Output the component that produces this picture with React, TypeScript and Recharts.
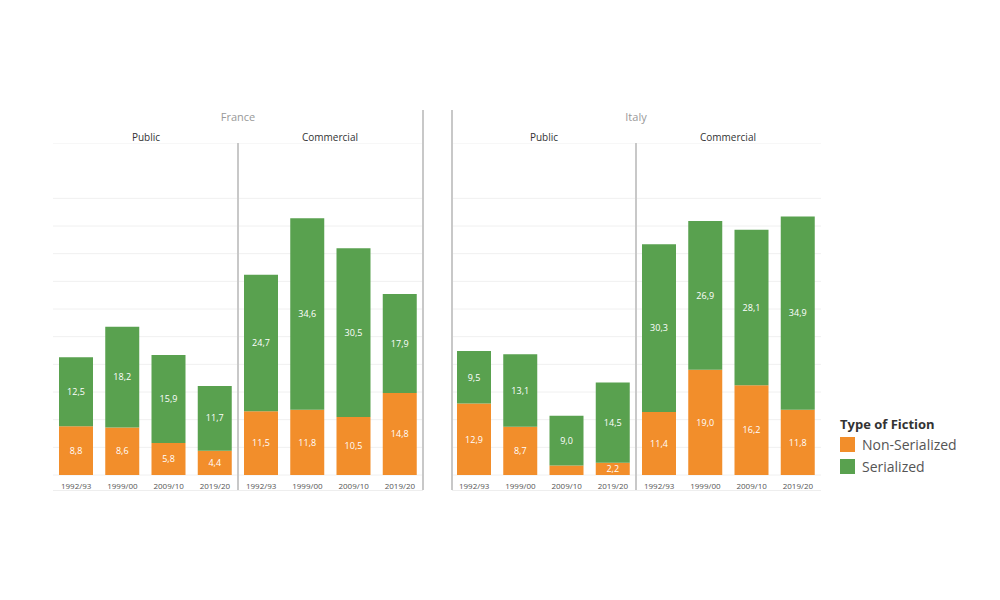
import { Bar, BarChart, CartesianGrid, LabelList, XAxis, YAxis } from 'recharts';

const seasons = ['1992/93', '1999/00', '2009/10', '2019/20'];

const francePublicNonSerialized = [8.8, 8.6, 5.8, 4.4];
const francePublicSerialized = [12.5, 18.2, 15.9, 11.7];
const franceCommercialNonSerialized = [11.5, 11.8, 10.5, 14.8];
const franceCommercialSerialized = [24.7, 34.6, 30.5, 17.9];
const italyPublicNonSerialized = [12.9, 8.7, 1.7, 2.2];
const italyPublicSerialized = [9.5, 13.1, 9.0, 14.5];
const italyCommercialNonSerialized = [11.4, 19.0, 16.2, 11.8];
const italyCommercialSerialized = [30.3, 26.9, 28.1, 34.9];

const yTicks = [0, 5, 10, 15, 20, 25, 30, 35, 40, 45, 50, 55, 60];

const ORANGE = '#F28E2B';
const GREEN = '#59A14F';
const FONT = '"Open Sans", "Noto Sans", sans-serif';

const buildRows = (nonSerialized: number[], serialized: number[]) =>
  seasons.map((season, i) => ({ season, nonSerialized: nonSerialized[i], serialized: serialized[i] }));

// small segments (< 2) get no label, like in the original
const formatValue = (value: any) =>
  typeof value === 'number' && value >= 2 ? value.toFixed(1).replace('.', ',') : '';

const PANEL_TOP = 143;
const PLOT_HEIGHT = 332;
const AXIS_HEIGHT = 20;
const PANEL_WIDTH = 185;

function Panel({ left, rows }: { left: number; rows: ReturnType<typeof buildRows> }) {
  return (
    <div style={{ position: 'absolute', left, top: PANEL_TOP }}>
      <BarChart
        width={PANEL_WIDTH}
        height={PLOT_HEIGHT + AXIS_HEIGHT}
        data={rows}
        margin={{ top: 0, right: 0, bottom: 0, left: 0 }}
        barSize={34}
      >
        <CartesianGrid vertical={false} stroke="#f0f0f0" />
        <YAxis hide domain={[0, 60]} ticks={yTicks} />
        <XAxis
          dataKey="season"
          height={AXIS_HEIGHT}
          tickLine={false}
          axisLine={false}
          tick={{ fontSize: 8, fill: '#555', fontFamily: FONT }}
          interval={0}
        />
        <Bar dataKey="nonSerialized" stackId="a" fill={ORANGE} isAnimationActive={false}>
          <LabelList dataKey="nonSerialized" position="center" formatter={formatValue} fill="#fff" fontSize={9} fontFamily={FONT} />
        </Bar>
        <Bar dataKey="serialized" stackId="a" fill={GREEN} isAnimationActive={false}>
          <LabelList dataKey="serialized" position="center" formatter={formatValue} fill="#fff" fontSize={9} fontFamily={FONT} />
        </Bar>
      </BarChart>
    </div>
  );
}

const vLine = (x: number, top: number, bottom: number) => (
  <div style={{ position: 'absolute', left: x - 1, top, width: 2, height: bottom - top, background: '#c8c8c8' }} />
);

const label = (text: string, cx: number, y: number, size: number, color: string) => (
  <div
    style={{
      position: 'absolute',
      left: cx - 100,
      top: y,
      width: 200,
      textAlign: 'center',
      fontSize: size,
      color,
      fontFamily: FONT,
      lineHeight: 1,
    }}
  >
    {text}
  </div>
);

export default function App() {
  return (
    <div style={{ position: 'absolute', left: 0, top: 0, width: 1000, height: 600, background: '#fff', fontFamily: FONT }}>
      {label('France', 238, 111, 11, '#999')}
      {label('Italy', 636, 111, 11, '#999')}
      {label('Public', 146, 132, 10, '#333')}
      {label('Commercial', 330, 132, 10, '#333')}
      {label('Public', 544, 132, 10, '#333')}
      {label('Commercial', 728, 132, 10, '#333')}

      <Panel left={53} rows={buildRows(francePublicNonSerialized, francePublicSerialized)} />
      <Panel left={238} rows={buildRows(franceCommercialNonSerialized, franceCommercialSerialized)} />
      <Panel left={451} rows={buildRows(italyPublicNonSerialized, italyPublicSerialized)} />
      <Panel left={636} rows={buildRows(italyCommercialNonSerialized, italyCommercialSerialized)} />

      {vLine(238, 143, 490)}
      {vLine(423, 110, 490)}
      {vLine(452, 110, 490)}
      {vLine(636, 143, 490)}
      <div style={{ position: 'absolute', left: 53, top: 490, width: 370, height: 1, background: '#eee' }} />
      <div style={{ position: 'absolute', left: 452, top: 490, width: 369, height: 1, background: '#eee' }} />

      <div style={{ position: 'absolute', left: 840, top: 415 }}>
        <div style={{ fontSize: 13, fontWeight: 700, color: '#333', lineHeight: '18px' }}>Type of Fiction</div>
        {[
          ['Non-Serialized', ORANGE],
          ['Serialized', GREEN],
        ].map(([name, color]) => (
          <div key={name} style={{ display: 'flex', alignItems: 'center', height: 22 }}>
            <div style={{ width: 15, height: 15, background: color, marginRight: 7 }} />
            <span style={{ fontSize: 14, color: '#555' }}>{name}</span>
          </div>
        ))}
      </div>
    </div>
  );
}
